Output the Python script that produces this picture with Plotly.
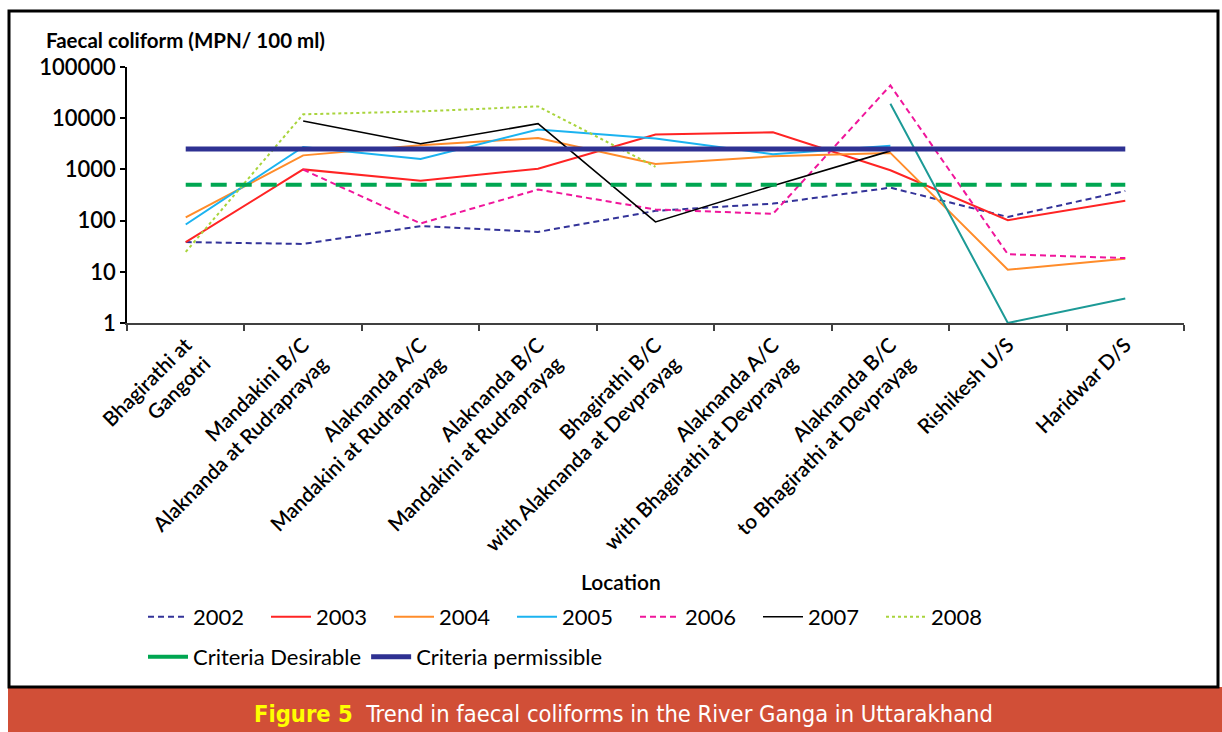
import plotly.graph_objects as go

# ---------------- data ----------------
locations = [
    "Bhagirathi at<br>Gangotri",
    "Mandakini B/C<br>Alaknanda at Rudraprayag",
    "Alaknanda A/C<br>Mandakini at Rudraprayag",
    "Alaknanda B/C<br>Mandakini at Rudraprayag",
    "Bhagirathi B/C<br>with Alaknanda at Devprayag",
    "Alaknanda A/C<br>with Bhagirathi at Devprayag",
    "Alaknanda B/C<br>to Bhagirathi at Devprayag",
    "Rishikesh U/S",
    "Haridwar D/S",
]

fc_2002 = [38, 35, 78, 60, 155, 215, 440, 118, 380]
fc_2003 = [38, 1000, 600, 1030, 4800, 5300, 960, 102, 245]
fc_2004 = [115, 1880, 2950, 4100, 1280, 1800, 2100, 11, 18]
fc_2005 = [84, 2750, 1600, 6000, 4000, 1980, 2900, None, None]
fc_2006 = [None, 990, 88, 405, 165, 135, 43600, 22, 18.5]
fc_2007 = [None, 8800, 3180, 7800, 94, 480, 2300, None, None]
fc_2008 = [24.5, 11900, 13600, 17000, 1120, None, None, None, None]
fc_other = [None, None, None, None, None, None, 19200, 1, 3]

criteria_desirable = [500] * 9
criteria_permissible = [2500] * 9

y_tickvals = [1, 10, 100, 1000, 10000, 100000]
y_ticktext = ["1", "10", "100", "1000", "10000", "100000"]

# ---------------- layout helpers ----------------
W, H = 1222, 732
L, R, T, B = 127, 1184, 67, 323


def PX(px):
    return (px - L) / (R - L)


def PY(py):
    return (B - py) / (B - T)


FONT = "Lato, Carlito, Calibri, 'Open Sans', sans-serif"
NARROW = "'Liberation Sans Narrow', 'Arial Narrow', 'DejaVu Sans Condensed', sans-serif"

fig = go.Figure()


def add_line(name, values, color, width, dash="solid", showlegend=True, legend="legend"):
    fig.add_trace(go.Scatter(
        x=locations, y=values, name=name, mode="lines",
        line=dict(color=color, width=width, dash=dash),
        connectgaps=False, showlegend=showlegend, legend=legend,
        hoverinfo="x+y+name",
    ))


add_line("2002", fc_2002, "#333399", 2, "6px,4px")
add_line("2003", fc_2003, "#FF2424", 2)
add_line("2004", fc_2004, "#FF8C2A", 2)
add_line("2005", fc_2005, "#1BB3F0", 2)
add_line("2006", fc_2006, "#F0169B", 2, "6px,4px")
add_line("2007", fc_2007, "#000000", 1.6)
add_line("2008", fc_2008, "#A9D43C", 2, "dot")
add_line("", fc_other, "#1C9A96", 2, showlegend=False)

# criteria lines: dashed on chart, solid sample in legend
add_line("Criteria Desirable", criteria_desirable, "#00A651", 4, "16px,9px", showlegend=False)
fig.add_trace(go.Scatter(
    x=[locations[0]], y=[None], name="Criteria Desirable", mode="lines",
    line=dict(color="#00A651", width=4), legend="legend2", showlegend=True))
add_line("Criteria permissible", criteria_permissible, "#2E3192", 5, legend="legend2")

fig.update_layout(
    width=W, height=H,
    autosize=False,
    margin=dict(l=L, r=W - R, t=T, b=H - B, pad=0),
    paper_bgcolor="white",
    plot_bgcolor="white",
    font=dict(family=FONT, color="black"),
    showlegend=True,
    legend=dict(
        orientation="h", x=PX(143), y=PY(617), xanchor="left", yanchor="middle",
        font=dict(family=FONT, size=22, color="black"),
        entrywidth=68, entrywidthmode="pixels",
        itemwidth=40, bgcolor="rgba(0,0,0,0)", tracegroupgap=0,
    ),
    legend2=dict(
        orientation="h", x=PX(143), y=PY(657), xanchor="left", yanchor="middle",
        font=dict(family=FONT, size=22, color="black"),
        itemwidth=40, bgcolor="rgba(0,0,0,0)",
    ),
    xaxis=dict(
        type="category", range=[-0.5, 8.5],
        showline=True, linecolor="#404040", linewidth=2,
        ticks="outside", ticklen=6, tickwidth=1.5, tickcolor="#404040",
        tickson="boundaries",
        tickangle=-45,
        tickfont=dict(family=FONT, size=20.5, color="black", weight=600),
        showgrid=False, zeroline=False,
    ),
    yaxis=dict(
        type="log", range=[0, 5],
        tickvals=y_tickvals, ticktext=y_ticktext,
        showline=True, linecolor="black", linewidth=1.5,
        ticks="outside", ticklen=5, tickwidth=1.5, tickcolor="black",
        tickfont=dict(family=FONT, size=22, color="black", weight=600),
        showgrid=False, zeroline=False,
    ),
    shapes=[
        dict(type="rect", xref="paper", yref="paper",
             x0=PX(8), x1=PX(1222), y0=PY(732), y1=PY(687),
             fillcolor="#D14F37", line=dict(width=0), layer="below"),
        dict(type="rect", xref="paper", yref="paper",
             x0=PX(9), x1=PX(1218), y0=PY(687), y1=PY(11),
             fillcolor="rgba(0,0,0,0)", line=dict(color="black", width=3), layer="below"),
    ],
    annotations=[
        dict(text="Faecal coliform (MPN/ 100 ml)", xref="paper", yref="paper",
             x=PX(44), y=PY(40), xanchor="left", yanchor="middle", showarrow=False,
             font=dict(family=FONT, size=20.5, color="black", weight=700)),
        dict(text="Location", xref="paper", yref="paper",
             x=PX(621), y=PY(581), xanchor="center", yanchor="middle", showarrow=False,
             font=dict(family=FONT, size=21, color="black", weight=600)),
        dict(text="<span style='color:#FFFF00'><b>Figure 5</b></span>  Trend in faecal coliforms in the River Ganga in Uttarakhand",
             xref="paper", yref="paper",
             x=PX(623), y=PY(714), xanchor="center", yanchor="middle", showarrow=False,
             font=dict(family=NARROW, size=23.5, color="white")),
    ],
)

fig.write_html("out.html", config={"displayModeBar": False},
               post_script="document.body.style.margin='0';document.body.style.overflow='hidden';")
